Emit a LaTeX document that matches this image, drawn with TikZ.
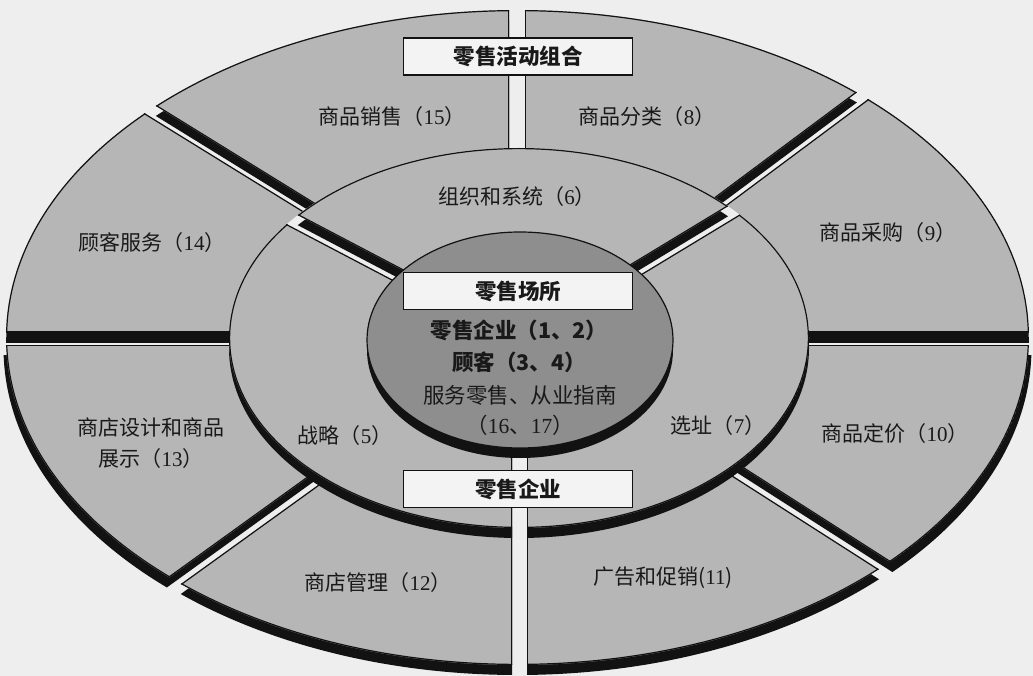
\documentclass[tikz,border=0pt]{standalone}
\usepackage{fontspec}
\setmainfont{Noto Sans CJK SC}
\newfontfamily\lib{Liberation Serif}
\usetikzlibrary{calc}
\definecolor{bgc}{RGB}{238,238,238}
\definecolor{segc}{RGB}{182,182,182}
\definecolor{innc}{RGB}{142,142,142}
\definecolor{boxc}{RGB}{243,243,243}
\definecolor{shc}{RGB}{18,18,18}
\definecolor{txt}{RGB}{25,25,25}
% half-plane clip / border line: Qx, Qy, angle, side, half gap
\newcommand\hpclip[5]{\clip ($(#1,#2)+({#3+(#4)*90}:#5)+(#3:-3000)$) -- ++(#3:6000) -- ++({#3+(#4)*90}:3000) -- ++(#3:-6000) -- cycle;}
\newcommand\hpline[5]{\draw[line width=2.4pt,shc] ($(#1,#2)+({#3+(#4)*90}:#5)+(#3:-3000)$) -- ++(#3:6000);}
% outer segments
\def\sPricing#1{#1{518}{338.5}{0}{+1}{6.5}#1{738}{472}{32.6}{-1}{6}}
\def\sAdv#1{#1{738}{472}{32.6}{+1}{6}#1{519.5}{500}{90}{-1}{7.5}}
\def\sMgmt#1{#1{519.5}{500}{90}{+1}{7.5}#1{312}{482}{144.2}{-1}{6}}
\def\sDesign#1{#1{312}{482}{144.2}{+1}{6}#1{518}{338.5}{180}{-1}{6.5}}
\def\sServ#1{#1{518}{338.5}{180}{+1}{6.5}#1{308}{207}{211.7}{-1}{6}}
\def\sSales#1{#1{308}{207}{211.7}{+1}{6}#1{517}{100}{270}{-1}{8}}
\def\sCat#1{#1{517}{100}{270}{+1}{8}#1{720}{202}{323.3}{-1}{6}}
\def\sBuy#1{#1{720}{202}{323.3}{+1}{6}#1{518}{338.5}{360}{-1}{6.5}}
% middle segments
\def\sLoc#1{#1{642}{266}{328.8}{+1}{6.5}#1{519.5}{500}{450}{-1}{7.5}}
\def\sStrat#1{#1{519.5}{500}{90}{+1}{7.5}#1{392}{272}{207.7}{-1}{6.5}}
\def\sOrg#1{#1{392}{272}{207.7}{+1}{6.5}#1{642}{266}{328.8}{-1}{6.5}}
\newcommand\outershadow[2][0]{\begin{scope}[shift={(#1,10)}]#2\hpclip\fill[shc] (517.5,337.5) ellipse [x radius=511.5pt, y radius=327.5pt];\end{scope}}
\newcommand\outerseg[1]{\begin{scope}#1\hpclip\clip (517.5,337.5) ellipse [x radius=511.5pt, y radius=327.5pt];\fill[segc] (517.5,337.5) ellipse [x radius=511.5pt, y radius=327.5pt];\draw[line width=2.4pt,shc] (517.5,337.5) ellipse [x radius=511.5pt, y radius=327.5pt];#1\hpline\end{scope}}
\newcommand\midshadow[1]{\begin{scope}[shift={(0,10)}]#1\hpclip\fill[shc] (519,338) ellipse [x radius=290pt, y radius=190pt];\end{scope}}
\newcommand\midseg[1]{\begin{scope}#1\hpclip\clip (519,338) ellipse [x radius=290pt, y radius=190pt];\fill[segc] (519,338) ellipse [x radius=290pt, y radius=190pt];\draw[line width=2.4pt,shc] (519,338) ellipse [x radius=290pt, y radius=190pt];#1\hpline\end{scope}}
\tikzset{
  lab/.style={font=\fontsize{21}{31}\selectfont, text=txt, inner sep=0pt, align=center},
  inl/.style={font=\fontsize{21.5}{24}\selectfont, text=txt, inner sep=0pt},
  inb/.style={font=\fontsize{21.5}{24}\selectfont\bfseries, text=txt, inner sep=0pt},
  boxn/.style={draw=shc, line width=1.2pt, fill=boxc, minimum width=229pt, minimum height=37pt, inner sep=0pt, font=\fontsize{21.5}{24}\selectfont\bfseries, text=txt},
}
\begin{document}
\begin{tikzpicture}[x=1pt,y=-1pt]
\useasboundingbox (0,0) rectangle (1033,676);
\fill[bgc] (0,0) rectangle (1033,676);
% outer ring
\outershadow[2.5]{\sPricing} \outershadow{\sAdv} \outershadow{\sMgmt} \outershadow[-2.5]{\sDesign}
\outershadow{\sServ} \outershadow{\sSales} \outershadow{\sCat} \outershadow{\sBuy}
\outerseg\sPricing \outerseg\sAdv \outerseg\sMgmt \outerseg\sDesign
\outerseg\sServ \outerseg\sSales \outerseg\sCat \outerseg\sBuy
% middle ring
\fill[bgc] (519,338) ellipse [x radius=290pt, y radius=190pt];
\midshadow\sLoc \midshadow\sStrat \midshadow\sOrg
\midseg\sLoc \midseg\sStrat \midseg\sOrg
% inner ellipse
\fill[shc] (520,350) ellipse [x radius=153pt, y radius=108pt];
\filldraw[fill=innc, draw=shc, line width=1.2pt] (520,340) ellipse [x radius=153pt, y radius=108pt];
% outer labels
\node[lab] (l15) at (392,117) {商品销售（{\lib 15}）};
\node[lab] (l8) at (647,117) {商品分类（{\lib 8}）};
\node[lab] (l14) at (152,243) {顾客服务（{\lib 14}）};
\node[lab] (l9) at (888,233) {商品采购（{\lib 9}）};
\node[lab] (l13) at (151,443) {商店设计和商品\\展示（{\lib 13}）};
\node[lab] (l10) at (895,434) {商品定价（{\lib 10}）};
\node[lab] (l12) at (378,583) {商店管理（{\lib 12}）};
\node[lab] (l11) at (663,578) {广告和促销({\lib 11})};
% middle labels
\node[lab] (l6) at (517,197) {组织和系统（{\lib 6}）};
\node[lab] (l5) at (345,436) {战略（{\lib 5}）};
\node[lab] (l7) at (718,426) {选址（{\lib 7}）};
% inner labels
\node[inb] (i1) at (519,330) {零售企业（1、2）};
\node[inb] (i2) at (519,362) {顾客（3、4）};
\node[inl] (i3) at (520,395) {服务零售、从业指南};
\node[inl] (i4) at (520,425) {（{\lib 16}、{\lib 17}）};
% boxes
\node[boxn] (b1) at (518,56.5) {零售活动组合};
\node[boxn] (b2) at (518,291) {零售场所};
\node[boxn] (b3) at (518,489) {零售企业};
\end{tikzpicture}
\end{document}
